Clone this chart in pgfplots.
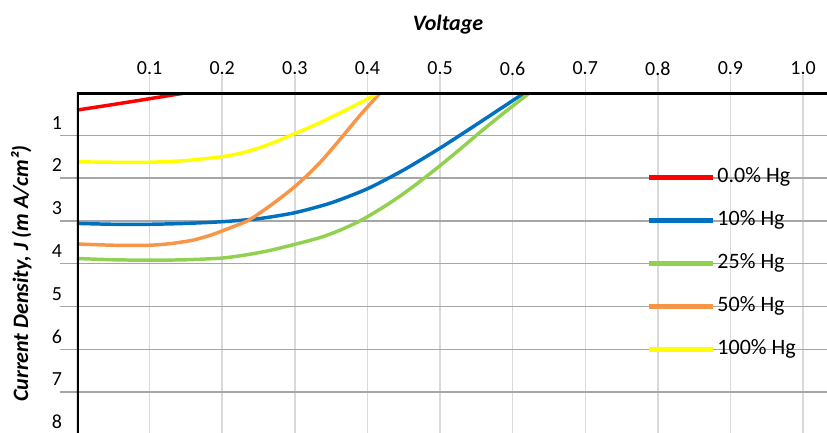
\documentclass[border=0pt]{standalone}
\usepackage{fontspec}
\setmainfont{Carlito}
\usepackage{pgfplots}
\pgfplotsset{compat=1.18}
\definecolor{cred}{HTML}{FF0000}
\definecolor{cblue}{HTML}{0070C0}
\definecolor{cgreen}{HTML}{92D050}
\definecolor{corange}{HTML}{F79646}
\definecolor{cyellow}{HTML}{FFFF00}
\definecolor{hgrid}{HTML}{A6A6A6}
\definecolor{vgrid}{HTML}{D9D9D9}
\begin{document}
\begin{tikzpicture}
\begin{axis}[
  at={(0pt,0pt)}, anchor=south west,
  scale only axis, width=562.5pt, height=256.67pt,
  xmin=0, xmax=1.033, ymin=0, ymax=8,
  y dir=reverse,
  axis line style={draw=none},
  xtick={0.1,0.2,0.3,0.4,0.5,0.6,0.7,0.8,0.9,1.0},
  xticklabels={0.1,0.2,0.3,0.4,0.5,0.6,0.7,0.8,0.9,1.0},
  ytick={1,2,3,4,5,6,7,8},
  yticklabels={1,2,3,4,5,6,7,8},
  xtick pos=right, ytick pos=left,
  xticklabel pos=right,
  tick align=outside,
  major tick length=13pt,
  xtick style={vgrid, line width=1.1pt},
  ytick style={hgrid, line width=1pt},
  xmajorgrids, ymajorgrids,
  x grid style={vgrid, line width=1.1pt},
  y grid style={hgrid, line width=1pt},
  tick label style={font=\fontsize{15}{17}\selectfont},
  xticklabel style={anchor=center, inner sep=0pt, yshift=5pt},
  yticklabel style={anchor=center, inner sep=0pt, xshift=-2pt, yshift=9.5pt},
  xlabel={Voltage},
  xlabel style={at={(axis description cs:0.4947,1.1826)}, anchor=base, font=\fontsize{16.5}{19}\selectfont\bfseries\itshape},
  ylabel={Current Density, J (m A/cm²)},
  ylabel style={at={(axis description cs:-0.0653,0.471)}, anchor=base, font=\fontsize{16.5}{19}\selectfont\bfseries\itshape},
  legend style={at={(axis description cs:0.7587,0.7843)}, anchor=north west, draw=none, fill=none,
    font=\fontsize{16.5}{19}\selectfont, inner sep=0pt, row sep=16.25pt, column sep=2pt,
    nodes={inner sep=0pt, text height=12pt, text depth=4pt}},
  legend cell align=left,
  legend image code/.code={\draw[#1, line width=3.4pt] (0pt,0pt) -- (48pt,0pt);},
  every axis plot/.append style={line width=2.6pt, smooth, tension=0.4},
]
\addplot[cred, no markers] coordinates {(0,0.41) (0.05,0.28) (0.098,0.15) (0.153,0)};
\addlegendentry{0.0\% Hg}
\addplot[cblue, no markers] coordinates {(0,3.06) (0.05,3.08) (0.1,3.08) (0.15,3.06) (0.2,3.02) (0.25,2.95) (0.3,2.81) (0.35,2.58) (0.4,2.25) (0.45,1.81) (0.5,1.30) (0.55,0.75) (0.6,0.19) (0.617,0)};
\addlegendentry{10\% Hg}
\addplot[cgreen, no markers] coordinates {(0,3.88) (0.05,3.91) (0.1,3.92) (0.15,3.91) (0.2,3.87) (0.235,3.79) (0.266,3.69) (0.3,3.55) (0.335,3.39) (0.362,3.22) (0.39,3.0) (0.42,2.70) (0.445,2.42) (0.47,2.11) (0.5,1.71) (0.53,1.29) (0.555,0.93) (0.59,0.45) (0.624,0)};
\addlegendentry{25\% Hg}
\addplot[corange, no markers] coordinates {(0,3.54) (0.05,3.57) (0.1,3.57) (0.13,3.53) (0.16,3.45) (0.185,3.33) (0.21,3.17) (0.236,2.99) (0.26,2.72) (0.28,2.47) (0.3,2.20) (0.32,1.89) (0.34,1.54) (0.365,1.04) (0.39,0.53) (0.418,0)};
\addlegendentry{50\% Hg}
\addplot[cyellow, no markers] coordinates {(0,1.62) (0.05,1.63) (0.1,1.63) (0.15,1.59) (0.2,1.50) (0.225,1.42) (0.25,1.30) (0.275,1.14) (0.3,0.96) (0.325,0.78) (0.35,0.58) (0.375,0.37) (0.4,0.15) (0.415,0)};
\addlegendentry{100\% Hg}
\draw[black, line width=3pt, line join=miter] (axis description cs:0,-0.05) -- (axis description cs:0,1) -- (axis description cs:1.05,1);
\end{axis}
\pgfresetboundingbox
\path[use as bounding box] (-57.75pt,2pt) rectangle (562.5pt,326.05pt);
\end{tikzpicture}
\end{document}
